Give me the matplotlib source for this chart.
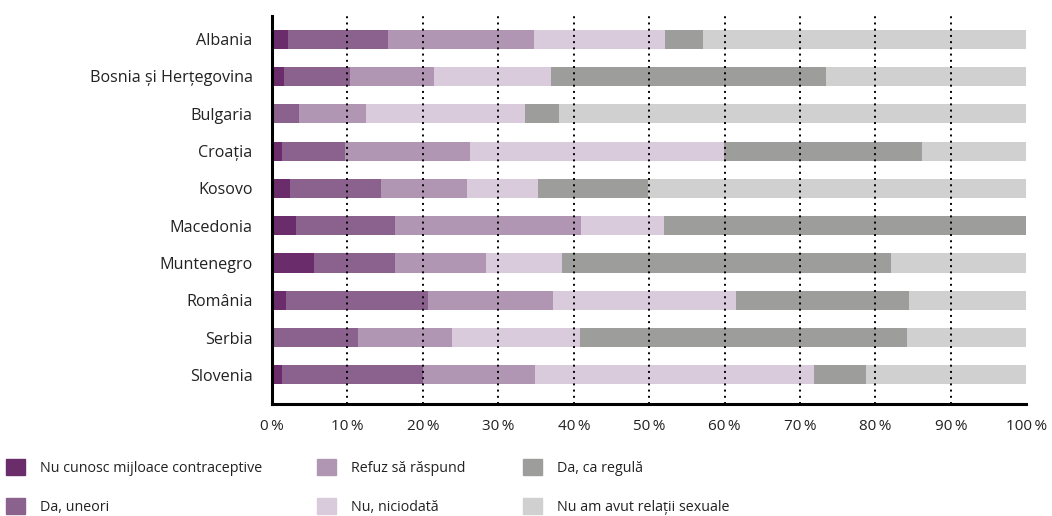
import numpy as np
import matplotlib.pyplot as plt
from matplotlib.patches import Patch

plt.rcParams['font.family'] = ['Open Sans', 'DejaVu Sans']
plt.rcParams['text.color'] = '#222222'
plt.rcParams['xtick.color'] = '#222222'
plt.rcParams['ytick.color'] = '#222222'

# Countries, top to bottom
countries = ['Albania', 'Bosnia și Herțegovina', 'Bulgaria', 'Croația', 'Kosovo',
             'Macedonia', 'Muntenegro', 'România', 'Serbia', 'Slovenia']

# Share of answers (%) per category
nu_cunosc   = [2.1, 1.6, 0.0, 1.3, 2.4, 3.2, 5.6, 1.9, 0.0, 1.3]
da_uneori   = [13.3, 8.7, 3.6, 8.4, 12.0, 13.1, 10.7, 18.8, 11.4, 18.7]
refuz       = [19.3, 11.2, 8.9, 16.5, 11.4, 24.6, 12.0, 16.5, 12.4, 14.8]
nu_niciodata = [17.4, 15.5, 21.0, 33.7, 9.4, 11.0, 10.1, 24.3, 17.0, 37.0]
da_regula   = [5.1, 36.5, 4.5, 26.3, 14.7, 48.1, 43.7, 23.0, 43.4, 7.0]
nu_am_avut  = [42.8, 26.5, 62.0, 13.8, 50.1, 0.0, 17.9, 15.5, 15.8, 21.2]

series = [nu_cunosc, da_uneori, refuz, nu_niciodata, da_regula, nu_am_avut]
labels = ['Nu cunosc mijloace contraceptive', 'Da, uneori', 'Refuz să răspund',
          'Nu, niciodată', 'Da, ca regulă', 'Nu am avut relații sexuale']
colors = ['#6a2c6b', '#8a628d', '#b196b4', '#d9cbdb', '#9d9d9c', '#d0d0d0']

fig = plt.figure(figsize=(10.52, 5.16), dpi=100)
ax = fig.add_axes([0.2586, 0.217, 0.717, 0.752])

y = np.arange(len(countries))
left = np.zeros(len(countries))
for vals, col in zip(series, colors):
    ax.barh(y, vals, left=left, height=0.51, color=col, zorder=2)
    left += np.array(vals)

# dotted vertical gridlines on top of the bars
for gx in range(10, 100, 10):
    ax.axvline(gx, color='black', lw=1.4, ls=(0, (1, 2.2)), zorder=3)

ax.set_xlim(0, 100)
ax.set_ylim(9.78, -0.62)
ax.set_yticks(y)
ax.set_yticklabels(countries, fontsize=11.6)
ax.set_xticks(range(0, 101, 10))
ax.set_xticklabels([f'{v}\u2009%' for v in range(0, 101, 10)], fontsize=11)
ax.tick_params(length=0)
ax.tick_params(axis='y', pad=14)
ax.tick_params(axis='x', pad=11)

for s in ['top', 'right']:
    ax.spines[s].set_visible(False)
ax.spines['left'].set_linewidth(2.2)
ax.spines['bottom'].set_linewidth(2.2)
ax.spines['bottom'].set_zorder(4)
ax.spines['left'].set_zorder(4)

# legend: three columns of two entries each
col_x = [6 / 1052, 317 / 1052, 523 / 1052]
for k, x0 in enumerate(col_x):
    idx = [2 * k, 2 * k + 1]
    fig.legend([Patch(color=colors[i]) for i in idx], [labels[i] for i in idx],
               loc='upper left', bbox_to_anchor=(x0, (516 - 459) / 516),
               frameon=False, fontsize=10.3, handlelength=1.33, handleheight=1.33,
               handletextpad=1.05, labelspacing=1.55, borderpad=0, borderaxespad=0)

fig.savefig('out.png', dpi=100)
